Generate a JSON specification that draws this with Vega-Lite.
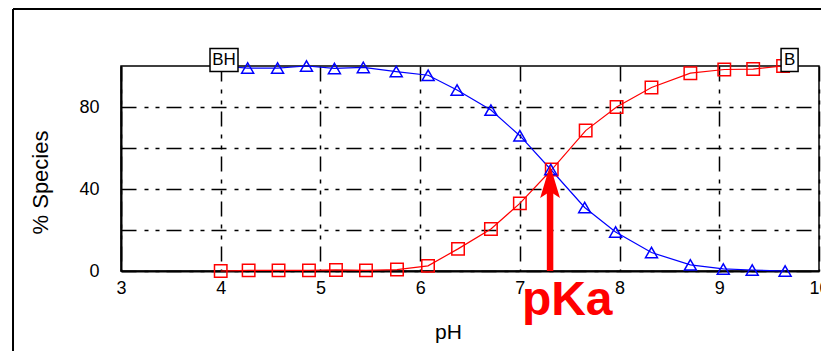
{
  "$schema": "https://vega.github.io/schema/vega-lite/v6.json",
  "width": 698,
  "height": 205,
  "autosize": {"type": "none"},
  "padding": {"left": 121, "top": 66, "right": 2, "bottom": 80},
  "background": "white",
  "config": {
    "view": {"stroke": "#000", "strokeWidth": 1.5},
    "font": "Liberation Sans"
  },
  "datasets": {
    "species": [
      {"x": 4.0, "y": 0, "species": "B"},
      {"x": 4.28, "y": 0.3, "species": "B"},
      {"x": 4.58, "y": 0.3, "species": "B"},
      {"x": 4.885, "y": 0.3, "species": "B"},
      {"x": 5.156, "y": 0.5, "species": "B"},
      {"x": 5.457, "y": 0.3, "species": "B"},
      {"x": 5.768, "y": 0.7, "species": "B"},
      {"x": 6.079, "y": 2.5, "species": "B"},
      {"x": 6.38, "y": 10.8, "species": "B"},
      {"x": 6.71, "y": 20.5, "species": "B"},
      {"x": 7.0, "y": 33, "species": "B"},
      {"x": 7.32, "y": 49.5, "species": "B"},
      {"x": 7.66, "y": 68.5, "species": "B"},
      {"x": 7.97, "y": 80, "species": "B"},
      {"x": 8.32, "y": 89.5, "species": "B"},
      {"x": 8.71, "y": 96.5, "species": "B"},
      {"x": 9.05, "y": 98.3, "species": "B"},
      {"x": 9.34, "y": 98.5, "species": "B"},
      {"x": 9.64, "y": 100, "species": "B"},
      {"x": 4.0, "y": 100, "species": "BH"},
      {"x": 4.27, "y": 99, "species": "BH"},
      {"x": 4.57, "y": 99, "species": "BH"},
      {"x": 4.86, "y": 100, "species": "BH"},
      {"x": 5.14, "y": 98.8, "species": "BH"},
      {"x": 5.43, "y": 99.3, "species": "BH"},
      {"x": 5.76, "y": 97.3, "species": "BH"},
      {"x": 6.08, "y": 95.5, "species": "BH"},
      {"x": 6.37, "y": 88.3, "species": "BH"},
      {"x": 6.71, "y": 78.5, "species": "BH"},
      {"x": 7.0, "y": 66, "species": "BH"},
      {"x": 7.31, "y": 49.5, "species": "BH"},
      {"x": 7.65, "y": 31, "species": "BH"},
      {"x": 7.96, "y": 19, "species": "BH"},
      {"x": 8.32, "y": 9, "species": "BH"},
      {"x": 8.71, "y": 3, "species": "BH"},
      {"x": 9.04, "y": 1, "species": "BH"},
      {"x": 9.33, "y": 0.5, "species": "BH"},
      {"x": 9.66, "y": 0, "species": "BH"}
    ],
    "frame": [
      {"x": 1.917, "x2": 1.917, "y": -45, "y2": 127.8},
      {"x": 1.917, "x2": 10.3, "y": 127.8, "y2": 127.8}
    ],
    "boxBH": [{"label": "BH", "x": 4.033, "y": 102.9}],
    "boxB": [{"label": "B", "x": 9.705, "y": 102.9}],
    "shaft": [{"x": 7.303, "y": 0, "y2": 39.5}],
    "head": [{"x": 7.303, "y": 43.6}],
    "note": [{"x": 7.475, "y": -21.5, "label": "pKa"}]
  },
  "encoding": {
    "x": {
      "field": "x", "type": "quantitative",
      "scale": {"domain": [3, 10], "nice": false, "zero": false},
      "axis": {
        "values": [3, 4, 5, 6, 7, 8, 9, 10],
        "format": "d",
        "grid": true,
        "gridColor": "#000",
        "gridWidth": 1.5,
        "gridOpacity": 1,
        "gridDash": [15, 8, 4, 7, 4, 7],
        "ticks": false,
        "domainColor": "#000",
        "domainWidth": 2,
        "labelFontSize": 18,
        "labelColor": "#000",
        "labelPadding": 8,
        "labelFlush": false,
        "labelOverlap": false,
        "title": "pH",
        "titleFontSize": 21,
        "titleFontWeight": "normal",
        "titleColor": "#000",
        "titleX": 327,
        "titleY": 67,
        "titleAlign": "center",
        "titleBaseline": "alphabetic"
      }
    },
    "y": {
      "field": "y", "type": "quantitative",
      "scale": {"domain": [0, 100], "nice": false},
      "axis": {
        "values": [0, 20, 40, 60, 80],
        "labelExpr": "datum.value % 40 == 0 ? datum.label : ''",
        "grid": true,
        "gridColor": "#000",
        "gridWidth": 1.5,
        "gridOpacity": 1,
        "gridDash": [15, 8, 4, 7, 4, 7],
        "ticks": false,
        "domainColor": "#000",
        "domainWidth": 2,
        "labelFontSize": 18,
        "labelColor": "#000",
        "labelPadding": 22,
        "labelFlush": false,
        "title": "% Species",
        "titleFontSize": 22,
        "titleFontWeight": "normal",
        "titleColor": "#000",
        "titleAngle": -90,
        "titleX": -74,
        "titleY": 116,
        "titleAlign": "center",
        "titleBaseline": "alphabetic"
      }
    }
  },
  "layer": [
    {
      "data": {"name": "frame"},
      "mark": {"type": "rule", "color": "#000", "strokeWidth": 2, "clip": false},
      "encoding": {
        "x2": {"field": "x2"},
        "y2": {"field": "y2"}
      }
    },
    {
      "data": {"name": "species"},
      "mark": {"type": "line", "strokeWidth": 1.2},
      "encoding": {
        "color": {"field": "species", "type": "nominal", "scale": {"domain": ["B", "BH"], "range": ["#ff0000", "#0000ff"]}, "legend": null}
      }
    },
    {
      "data": {"name": "species"},
      "mark": {"type": "point", "filled": false, "strokeWidth": 1.5, "opacity": 1},
      "encoding": {
        "color": {"field": "species", "type": "nominal", "scale": {"domain": ["B", "BH"], "range": ["#ff0000", "#0000ff"]}, "legend": null},
        "shape": {"field": "species", "type": "nominal", "scale": {"domain": ["B", "BH"], "range": ["square", "triangle-up"]}, "legend": null},
        "size": {"field": "species", "type": "nominal", "scale": {"domain": ["B", "BH"], "range": [155, 144]}, "legend": null}
      }
    },
    {
      "data": {"name": "boxBH"},
      "mark": {"type": "point", "shape": "M-1,-0.82L1,-0.82L1,0.82L-1,0.82Z", "size": 784, "filled": true, "fill": "white", "stroke": "#000", "strokeWidth": 1.5, "opacity": 1, "fillOpacity": 1, "strokeOpacity": 1, "clip": false},
      "encoding": {}
    },
    {
      "data": {"name": "boxB"},
      "mark": {"type": "point", "shape": "M-0.74,-1L0.74,-1L0.74,1L-0.74,1Z", "size": 529, "filled": true, "fill": "white", "stroke": "#000", "strokeWidth": 1.5, "opacity": 1, "fillOpacity": 1, "strokeOpacity": 1, "clip": false},
      "encoding": {}
    },
    {
      "data": {"name": "boxBH"},
      "mark": {"type": "text", "fontSize": 17, "align": "center", "baseline": "middle", "color": "#000", "clip": false},
      "encoding": {"text": {"field": "label"}}
    },
    {
      "data": {"name": "boxB"},
      "mark": {"type": "text", "fontSize": 17, "align": "center", "baseline": "middle", "color": "#000", "clip": false},
      "encoding": {"text": {"field": "label"}}
    },
    {
      "data": {"name": "shaft"},
      "mark": {"type": "rule", "color": "#ff0000", "strokeWidth": 6.5},
      "encoding": {"y2": {"field": "y2"}}
    },
    {
      "data": {"name": "head"},
      "mark": {"type": "point", "shape": "M0,-1L0.6,1L0,0.6L-0.6,1Z", "size": 1089, "filled": true, "color": "#ff0000", "opacity": 1, "strokeWidth": 0},
      "encoding": {}
    },
    {
      "data": {"name": "note"},
      "mark": {"type": "text", "fontSize": 48, "fontWeight": "bold", "color": "#ff0000", "align": "center", "baseline": "alphabetic", "clip": false},
      "encoding": {"text": {"field": "label"}}
    }
  ]
}
